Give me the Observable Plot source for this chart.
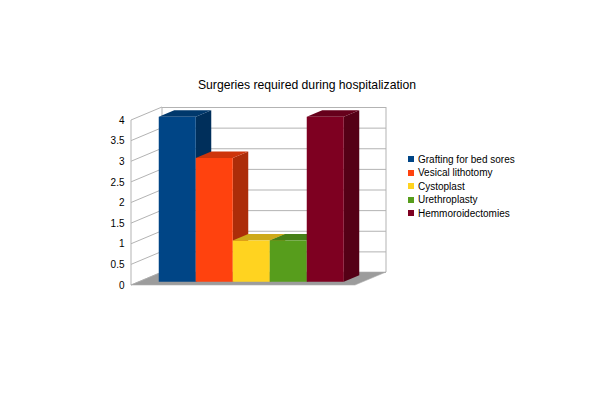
<!DOCTYPE html>
<html><head><meta charset="utf-8">
<script src="https://cdn.jsdelivr.net/npm/d3@7"></script>
<script src="https://cdn.jsdelivr.net/npm/@observablehq/plot@0.6"></script>
<style>
body{margin:0;background:#fff;font-family:"Liberation Sans",Arial,sans-serif;}
#wrap{position:relative;width:600px;height:400px;overflow:hidden;}
#chart{position:absolute;left:0;top:0;}
#title{position:absolute;top:78px;left:0;width:614px;text-align:center;font-size:12.2px;line-height:14px;color:#000;}
#legend{position:absolute;left:408px;top:153px;font-size:10px;color:#000;}
.row{height:13.4px;line-height:13.4px;white-space:nowrap;}
.sw{display:inline-block;width:6px;height:6px;margin-right:4px;vertical-align:middle;position:relative;top:-1px;}
</style></head>
<body>
<div id="wrap"><div id="chart"></div><div id="title"></div><div id="legend"></div></div>
<script>
const title = "Surgeries required during hospitalization";
const series = ["Grafting for bed sores", "Vesical lithotomy", "Cystoplast", "Urethroplasty", "Hemmoroidectomies"];
const values = [4, 3, 1, 1, 4];
const colors = ["#004586", "#ff420e", "#ffd320", "#579d1c", "#7e0021"];
const yTicks = [0, 0.5, 1, 1.5, 2, 2.5, 3, 3.5, 4];

const data = series.map((s, i) => ({s, v: values[i], c: colors[i]}));

// 3D look: depth vector of the chart box (pixels), bars occupy the middle half
const D = [31, -13];
const barFront = [D[0] * 0.25, D[1] * 0.25];
const barDepth = [D[0] * 0.5, D[1] * 0.5];
const gridColor = "#b3b3b3";

function bw(x) {
  if (typeof x.bandwidth === "function") return x.bandwidth();
  if (typeof x.bandwidth === "number") return x.bandwidth;
  return x(series[1]) - x(series[0]);
}
const pts = p => p.map(q => q.join(",")).join(" ");

function walls(index, scales, values, dims) {
  const y = scales.y;
  const L = dims.marginLeft, R = dims.width - dims.marginRight;
  const y0 = y(yTicks[0]), yT = y(yTicks[yTicks.length - 1]);
  const g = d3.create("svg:g");
  for (const t of yTicks) {
    g.append("line").attr("x1", L).attr("y1", y(t)).attr("x2", L + D[0]).attr("y2", y(t) + D[1])
      .attr("stroke", gridColor);
  }
  g.append("line").attr("x1", L).attr("y1", y0).attr("x2", L).attr("y2", yT).attr("stroke", gridColor);
  g.append("line").attr("x1", L + D[0]).attr("y1", y0 + D[1]).attr("x2", L + D[0]).attr("y2", yT + D[1]).attr("stroke", gridColor);
  g.append("line").attr("x1", R + D[0]).attr("y1", y0 + D[1]).attr("x2", R + D[0]).attr("y2", yT + D[1]).attr("stroke", gridColor);
  g.append("polygon")
    .attr("points", pts([[L, y0], [R, y0], [R + D[0], y0 + D[1]], [L + D[0], y0 + D[1]]]))
    .attr("fill", "#9c9c9c").attr("stroke", "#b0b0b0").attr("stroke-width", 0.6);
  return g.node();
}

function barSides(index, scales) {
  const x = scales.x, y = scales.y, w = bw(x);
  const g = d3.create("svg:g");
  data.forEach(d => {
    const x0 = x(d.s) + barFront[0], x1 = x0 + w;
    const yt = y(d.v) + barFront[1], yb = y(0) + barFront[1];
    const [ex, ey] = barDepth;
    g.append("polygon")
      .attr("points", pts([[x1, yt], [x1 + ex, yt + ey], [x1 + ex, yb + ey], [x1, yb]]))
      .attr("fill", d3.color(d.c).darker(1.1).formatHex());
    g.append("polygon")
      .attr("points", pts([[x0, yt], [x1, yt], [x1 + ex, yt + ey], [x0 + ex, yt + ey]]))
      .attr("fill", d3.color(d.c).darker(0.6).formatHex());
  });
  return g.node();
}

const chart = Plot.plot({
  width: 600,
  height: 400,
  marginLeft: 131,
  marginRight: 245,
  marginTop: 120,
  marginBottom: 115,
  style: {fontFamily: "'Liberation Sans', Arial, sans-serif", fontSize: "10px", color: "#000", background: "transparent"},
  x: {type: "band", domain: series, paddingInner: 0, paddingOuter: 0.5, axis: null, label: null},
  y: {domain: [0, 4], axis: null, label: null},
  color: {domain: series, range: colors},
  marks: [
    Plot.ruleY(yTicks, {dx: D[0], dy: D[1], stroke: gridColor}),
    walls,
    barSides,
    Plot.barY(data, {x: "s", y: "v", fill: "s", dx: barFront[0], dy: barFront[1]}),
    Plot.axisY(yTicks, {tickSize: 0, tickPadding: 7, tickFormat: d => String(d), fontSize: 10, label: null})
  ]
});
document.getElementById("chart").appendChild(chart);
document.getElementById("title").textContent = title;

const legend = d3.select("#legend");
series.forEach((s, i) => {
  const row = legend.append("div").attr("class", "row");
  row.append("span").attr("class", "sw").style("background", colors[i]);
  row.append("span").text(s);
});
</script>
</body></html>
